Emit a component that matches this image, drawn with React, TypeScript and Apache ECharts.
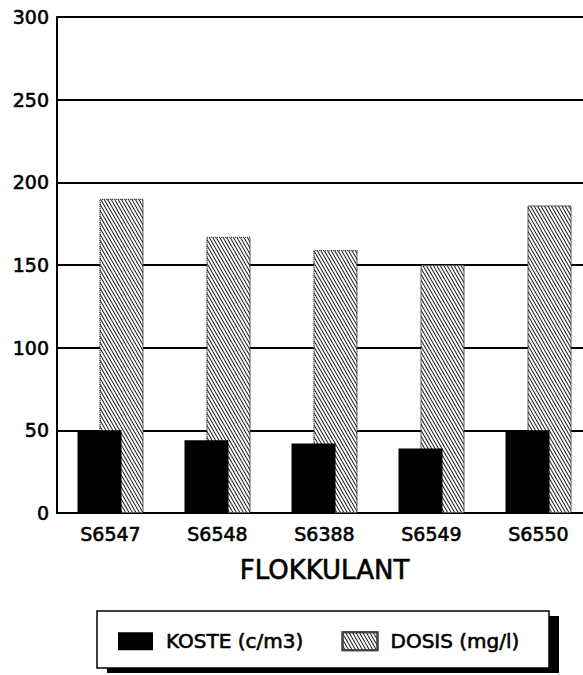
import React, { useEffect, useRef } from "react";
import * as echarts from "echarts";

const categories = ["S6547", "S6548", "S6388", "S6549", "S6550"];
const kosteValues = [50, 44, 42, 39, 50];
const dosisValues = [190, 167, 159, 150, 186];
const yTicks = { min: 0, max: 300, interval: 50 };
const axisTitle = "FLOKKULANT";
const seriesNames = ["KOSTE (c/m3)", "DOSIS (mg/l)"];

const FONT = "'DejaVu Sans', 'Liberation Sans', sans-serif";
// a thin outline gives the regular face a medium weight
const medium = { textBorderColor: "#000", textBorderWidth: 0.6 };

export default function App() {
  const ref = useRef<HTMLDivElement>(null);

  useEffect(() => {
    if (!ref.current) return;
    const chart = echarts.init(ref.current, null, { renderer: "svg" });

    const hatch = {
      symbol: "rect",
      symbolSize: 1,
      dashArrayX: [1, 0],
      dashArrayY: [1, 2],
      rotation: Math.PI / 3,
      color: "#1c1c1c",
      backgroundColor: "#ffffff",
    };

    chart.setOption({
      animation: false,
      backgroundColor: "#ffffff",
      // the plot runs on past the right edge of the visible frame
      grid: { left: 57, top: 17, width: 535, height: 496, containLabel: false },
      xAxis: {
        type: "category",
        data: categories,
        name: axisTitle,
        nameLocation: "middle",
        nameGap: 44,
        nameTextStyle: { fontFamily: FONT, fontSize: 26, color: "#000", ...medium },
        axisLine: { show: true, lineStyle: { color: "#000", width: 2 } },
        axisTick: { show: false },
        axisLabel: { fontFamily: FONT, fontSize: 19, color: "#000", margin: 11, ...medium },
      },
      yAxis: {
        type: "value",
        min: yTicks.min,
        max: yTicks.max,
        interval: yTicks.interval,
        axisLine: { show: true, lineStyle: { color: "#000", width: 2 } },
        axisTick: { show: false },
        axisLabel: { fontFamily: FONT, fontSize: 19, color: "#000", margin: 8, ...medium },
        splitLine: { show: true, lineStyle: { color: "#000", width: 2 } },
      },
      legend: {
        left: 118,
        top: 631,
        padding: 0,
        z: 10,
        icon: "rect",
        itemWidth: 35,
        itemHeight: 18,
        itemGap: 38,
        data: seriesNames,
        textStyle: {
          fontFamily: FONT,
          fontSize: 20,
          color: "#000",
          padding: [0, 0, 0, 8],
          ...medium,
        },
      },
      graphic: [
        {
          type: "rect",
          z: 1,
          shape: { x: 107, y: 616, width: 452, height: 57 },
          style: { fill: "#000" },
        },
        {
          type: "rect",
          z: 2,
          shape: { x: 97, y: 611, width: 452, height: 57 },
          style: { fill: "#fff", stroke: "#000", lineWidth: 1.5 },
        },
      ],
      series: [
        {
          name: seriesNames[0],
          type: "bar",
          data: kosteValues,
          barWidth: 44,
          barGap: "-50%",
          z: 4,
          itemStyle: { color: "#000" },
        },
        {
          name: seriesNames[1],
          type: "bar",
          data: dosisValues,
          barWidth: 44,
          barGap: "-50%",
          z: 3,
          itemStyle: {
            color: "#ffffff",
            borderColor: "#444",
            borderWidth: 1,
            borderType: "dotted",
            decal: hatch,
          },
        },
      ],
    });

    return () => chart.dispose();
  }, []);

  return (
    <div
      style={{
        position: "absolute",
        left: 0,
        top: 0,
        width: 583,
        height: 675,
        overflow: "hidden",
        background: "#fff",
      }}
    >
      <div ref={ref} style={{ width: 610, height: 675 }} />
    </div>
  );
}
